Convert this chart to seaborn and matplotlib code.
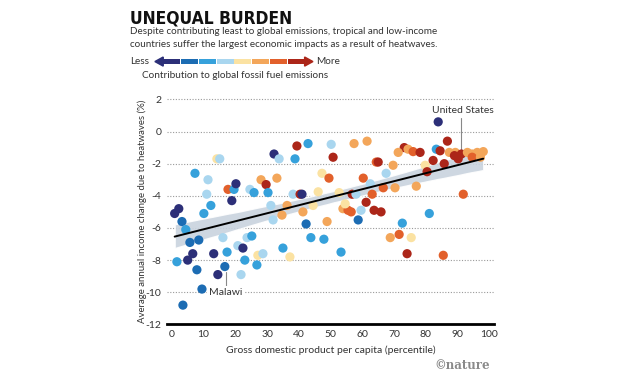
import numpy as np
import matplotlib.pyplot as plt
import seaborn as sns
import pandas as pd
from matplotlib.patches import Polygon
from matplotlib import font_manager
from matplotlib.font_manager import FontProperties

# GDP per capita percentile, income change (%), emissions class (0 = less ... 7 = more)
gdp_pct = [0.9, 2.2, 3.2, 4.4, 7.3, 10.1, 12.3, 11.4, 11.0, 14.2, 15.1, 17.7, 19.6, 20.2, 18.9,
           24.6, 25.9, 28.1, 29.7, 30.3, 32.2, 33.8, 33.1, 38.8, 39.4, 42.9, 5.7, 8.5, 6.6, 13.2,
           1.6, 5.0, 7.9, 14.5, 16.7, 9.5, 3.5, 16.1, 17.4, 20.8, 21.8, 22.4, 23.0, 23.7, 25.2,
           26.8, 27.1, 28.7, 31.2, 31.9, 35.0, 34.7, 36.3, 37.2, 41.3, 42.3, 43.8, 44.5, 47.9,
           48.9, 53.3, 53.9, 55.5, 56.5, 54.6, 58.7, 59.6, 61.2, 63.7, 65.9, 68.8, 71.6, 72.6,
           75.4, 74.1, 81.1, 85.5, 50.2, 57.4, 61.5, 50.8, 47.3, 49.5, 60.3, 64.4, 38.2, 40.4,
           41.0, 46.1, 52.7, 56.8, 58.0, 62.5, 63.1, 83.9, 86.8, 83.3, 84.5, 73.2, 74.4, 76.0,
           78.2, 71.3, 87.4, 89.3, 89.0, 91.2, 90.2, 93.1, 94.6, 96.2, 98.1, 94.6, 97.2, 82.3,
           85.8, 79.8, 80.4, 69.7, 65.0, 67.5, 66.6, 70.3, 77.0, 91.8]
income_change = [-5.1, -4.8, -5.6, -6.1, -2.6, -5.1, -4.6, -3.0, -3.9, -1.7, -1.7, -3.6, -3.6, -3.25, -4.3,
                 -3.6, -3.8, -3.0, -3.3, -3.8, -1.4, -1.7, -2.9, -1.7, -0.9, -0.75, -6.9, -6.75, -7.6, -7.6,
                 -8.1, -8.0, -8.6, -8.9, -8.4, -9.8, -10.8, -6.6, -7.5, -7.1, -8.9, -7.25, -8.0, -6.6, -6.5,
                 -8.3, -7.7, -7.6, -4.6, -5.5, -7.25, -5.2, -4.6, -7.8, -5.0, -5.75, -6.6, -4.6, -6.7,
                 -5.6, -7.5, -4.8, -4.9, -5.0, -4.5, -5.5, -4.9, -4.4, -4.9, -5.0, -6.6, -6.4, -5.7,
                 -6.6, -7.6, -5.1, -7.7, -0.8, -0.75, -0.6, -1.6, -2.6, -2.9, -2.9, -1.9, -3.9, -3.9,
                 -3.9, -3.75, -3.8, -3.9, -3.9, -3.25, -3.9, 0.6, -0.6, -1.1, -1.2, -1.0, -1.1, -1.25,
                 -1.3, -1.3, -1.3, -1.3, -1.5, -1.4, -1.7, -1.3, -1.4, -1.3, -1.25, -1.6, -1.6, -1.8,
                 -2.0, -2.1, -2.5, -2.1, -1.9, -2.6, -3.5, -3.5, -3.4, -3.9]
emis_level = [0, 0, 1, 2, 2, 2, 2, 3, 3, 4, 3, 6, 2, 0, 0,
              3, 2, 5, 7, 2, 0, 3, 5, 2, 7, 2, 1, 1, 0, 0,
              2, 0, 1, 0, 1, 1, 1, 3, 2, 3, 3, 0, 2, 3, 2,
              2, 4, 3, 3, 3, 2, 5, 5, 4, 5, 1, 2, 4, 2,
              5, 2, 5, 6, 6, 4, 1, 3, 7, 7, 7, 5, 6, 2,
              4, 7, 2, 6, 3, 5, 5, 7, 4, 6, 6, 6, 3, 7,
              0, 4, 4, 7, 3, 3, 6, 0, 7, 2, 7, 7, 5, 6,
              7, 5, 5, 5, 7, 7, 7, 5, 5, 5, 5, 6, 5, 7,
              7, 4, 7, 5, 7, 3, 6, 5, 5, 6]

emis_colors = ['#2c2f78', '#1c6cb3', '#36a1db', '#a9d6ef', '#fbe2a2', '#f3a65a', '#e2602b', '#ac2619']
y_ticks = [2, 0, -2, -4, -6, -8, -10, -12]
x_ticks = [0, 10, 20, 30, 40, 50, 60, 70, 80, 90, 100]

df = pd.DataFrame({'gdp': gdp_pct, 'income': income_change, 'level': emis_level})

sns.set_style('white')
plt.rcParams['font.family'] = ['Lato', 'DejaVu Sans']
plt.rcParams['axes.unicode_minus'] = False

# narrow bold face for the headline, if one is installed
narrow = sorted(f.fname for f in font_manager.fontManager.ttflist
                if ('Narrow' in f.fname or 'Condensed' in f.fname) and 'Bold' in f.fname
                and 'Italic' not in f.fname and 'Oblique' not in f.fname)
if narrow:
    title_fp = FontProperties(fname=narrow[0], size=12.5)
else:
    title_fp = FontProperties(family='DejaVu Sans', weight='bold', size=11)

fig = plt.figure(figsize=(6.4, 3.8), dpi=100)
ax = fig.add_axes([0.261, 0.142, 0.511, 0.605])

for t in y_ticks[:-1]:
    ax.axhline(t, color='#9a9a9a', lw=0.8, ls=(0, (1, 1.5)), zorder=0)

sns.regplot(data=df, x='gdp', y='income', scatter=False, ax=ax, ci=95,
            line_kws={'color': 'black', 'lw': 1.4, 'zorder': 4}, truncate=True)
band = ax.collections[-1]
band.set_facecolor('#c9d3de')
band.set_alpha(0.9)
band.set_zorder(2)

sns.scatterplot(data=df, x='gdp', y='income', hue='level', palette=emis_colors,
                s=44, linewidth=0, legend=False, ax=ax, zorder=3)

ax.set_xlim(-1.5, 101.5)
ax.set_ylim(-12.1, 2.2)
ax.set_xticks(x_ticks)
ax.set_yticks(y_ticks)
ax.tick_params(axis='both', length=0, labelsize=7.5, colors='#333333', pad=4)
for s in ['top', 'right', 'left']:
    ax.spines[s].set_visible(False)
ax.spines['bottom'].set_color('black')
ax.spines['bottom'].set_linewidth(2)
ax.spines['bottom'].set_position(('data', -12))
ax.set_xlabel('Gross domestic product per capita (percentile)', fontsize=7.5, color='#333333', labelpad=5)
ax.set_ylabel('Average annual income change due to heatwaves (%)', fontsize=6.9, color='#333333', labelpad=-1)

# annotations
ax.plot([17.0, 17.0], [-8.75, -9.65], color='#888888', lw=0.8, zorder=2)
ax.text(17.0, -10, 'Malawi', fontsize=7.5, color='#333333', ha='center', va='center',
        bbox=dict(facecolor='white', edgecolor='none', pad=1.5), zorder=5)
ax.plot([91.2, 91.2], [0.85, -1.15], color='#888888', lw=0.8, zorder=2)
ax.text(91.8, 1.3, 'United States', fontsize=7.5, color='#333333', ha='center', va='center',
        bbox=dict(facecolor='white', edgecolor='none', pad=1), zorder=5)

# title block
fig.text(0.203, 0.952, 'UNEQUAL BURDEN', fontproperties=title_fp, color='#111111', va='center')
fig.text(0.203, 0.916, 'Despite contributing least to global emissions, tropical and low-income',
         fontsize=7.1, color='#333333', va='center')
fig.text(0.203, 0.884, 'countries suffer the largest economic impacts as a result of heatwaves.',
         fontsize=7.1, color='#333333', va='center')

# colour key
kax = fig.add_axes([0.242, 0.823, 0.247, 0.03])
kax.set_xlim(-0.95, len(emis_colors) - 0.05)
kax.set_ylim(-1, 1)
kax.axis('off')
kax.bar(range(len(emis_colors)), [0.8] * len(emis_colors), bottom=-0.4, width=0.96,
        color=emis_colors, linewidth=0)
kax.add_patch(Polygon([[-0.48, -0.8], [-0.48, 0.8], [-0.95, 0]], closed=True,
                      color=emis_colors[0], clip_on=False))
kax.add_patch(Polygon([[7.48, -0.8], [7.48, 0.8], [7.95, 0]], closed=True,
                      color=emis_colors[-1], clip_on=False))
fig.text(0.203, 0.837, 'Less', fontsize=7.2, color='#333333', va='center')
fig.text(0.494, 0.837, 'More', fontsize=7.2, color='#333333', va='center')
fig.text(0.222, 0.8, 'Contribution to global fossil fuel emissions', fontsize=7.2,
         color='#333333', va='center')

fig.text(0.766, 0.038, '©nature', fontsize=8.5, color='#8a8a8a', ha='right', va='center',
         family=['DejaVu Serif'], fontweight='bold')

fig.savefig('out.png', dpi=100, facecolor='white')
